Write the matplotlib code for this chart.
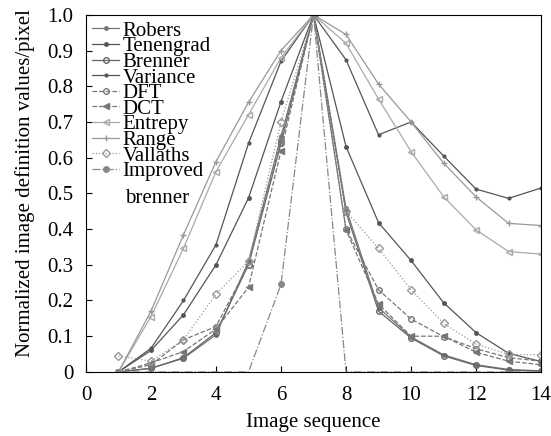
import numpy as np
import matplotlib
matplotlib.use("Agg")
import matplotlib.pyplot as plt

plt.rcParams["font.family"] = ["Liberation Serif", "DejaVu Serif"]

x = np.arange(1, 15)

robers = [0.0, 0.01, 0.038, 0.104, 0.31, 0.66, 1.0, 0.458, 0.18, 0.098, 0.048, 0.02, 0.007, 0.003]
tenengrad = [0.0, 0.06, 0.16, 0.30, 0.487, 0.757, 1.0, 0.631, 0.418, 0.312, 0.194, 0.11, 0.052, 0.029]
brenner = [0.0, 0.01, 0.04, 0.11, 0.30, 0.64, 1.0, 0.447, 0.17, 0.095, 0.045, 0.018, 0.005, 0.002]
variance = [0.0, 0.066, 0.20, 0.356, 0.64, 0.87, 1.0, 0.874, 0.664, 0.70, 0.605, 0.512, 0.486, 0.515]
dft = [0.0, 0.02, 0.09, 0.127, 0.30, 0.65, 1.0, 0.40, 0.23, 0.148, 0.099, 0.065, 0.04, 0.03]
dct = [0.0, 0.025, 0.057, 0.12, 0.237, 0.62, 1.0, 0.398, 0.19, 0.10, 0.10, 0.055, 0.03, 0.02]
entrepy = [0.0, 0.155, 0.346, 0.561, 0.72, 0.88, 1.0, 0.92, 0.764, 0.617, 0.491, 0.398, 0.337, 0.33]
range_ = [0.0, 0.17, 0.384, 0.589, 0.755, 0.90, 1.0, 0.945, 0.806, 0.70, 0.585, 0.49, 0.416, 0.41]
vallaths = [0.045, 0.03, 0.09, 0.218, 0.31, 0.70, 1.0, 0.45, 0.346, 0.23, 0.136, 0.078, 0.049, 0.048]
improved = [0.0, 0.0, 0.0, 0.0, 0.0, 0.245, 1.0, 0.0, 0.0, 0.0, 0.0, 0.0, 0.0, 0.0]

series = [
    ("Robers", robers, dict(ls="-", marker=".", color="#777777", ms=5)),
    ("Tenengrad", tenengrad, dict(ls="-", marker=".", color="#555555", ms=5)),
    ("Brenner", brenner, dict(ls="-", marker="o", color="#666666", ms=4, mfc="none")),
    ("Variance", variance, dict(ls="-", marker=".", color="#555555", ms=4)),
    ("DFT", dft, dict(ls="--", marker="o", color="#777777", ms=4, mfc="none")),
    ("DCT", dct, dict(ls="--", marker="<", color="#777777", ms=4)),
    ("Entrepy", entrepy, dict(ls="-", marker="<", color="#aaaaaa", ms=5, mfc="none")),
    ("Range", range_, dict(ls="-", marker="+", color="#999999", ms=5)),
    ("Vallaths", vallaths, dict(ls=":", marker="D", color="#999999", ms=4, mfc="none")),
    ("Improved", improved, dict(ls="-.", marker="o", color="#888888", ms=4, markevery=[0, 5, 6])),
]

fig = plt.figure(figsize=(5.51, 4.36), dpi=100)
ax = fig.add_axes([0.156, 0.147, 0.826, 0.819])

for name, vals, st in series:
    ax.plot(x, vals, lw=0.9, label=name, **st)

ax.set_xlim(0, 14)
ax.set_ylim(0, 1.0)
ax.set_xticks(np.arange(0, 15, 2))
ax.set_yticks(np.arange(0, 1.01, 0.1))
ax.set_yticklabels(["0"] + [f"{v:.1f}" for v in np.arange(0.1, 1.01, 0.1)])
ax.tick_params(direction="in", labelsize=15, top=False, right=False, length=4)
ax.tick_params(axis="y", pad=9)
ax.tick_params(axis="x", pad=10)
ax.set_xlabel("Image sequence", fontsize=15, labelpad=6)
ax.set_ylabel("Normalized image definition values/pixel", fontsize=15)
ax.yaxis.set_label_coords(-0.112, 0.528)

leg = ax.legend(loc="upper left", frameon=False, fontsize=15, labelspacing=-0.19,
                handlelength=1.3, handletextpad=0.15, borderaxespad=0.1,
                borderpad=0.2, bbox_to_anchor=(0.0, 1.0))
ax.text(0.086, 0.487, "brenner", transform=ax.transAxes, fontsize=15,
        ha="left", va="center")

fig.savefig("out.png", dpi=100)
